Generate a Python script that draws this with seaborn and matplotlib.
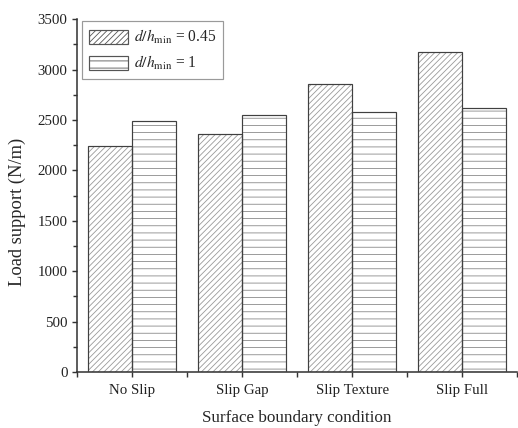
import matplotlib
matplotlib.use("Agg")
import matplotlib.pyplot as plt
import seaborn as sns
import pandas as pd
from matplotlib.ticker import MultipleLocator
from matplotlib.patches import Patch

categories = ["No Slip", "Slip Gap", "Slip Texture", "Slip Full"]
load_045 = [2240, 2365, 2860, 3175]
load_1 = [2495, 2550, 2580, 2620]
series_labels = [r"$d/h_{\mathrm{min}}$ = 0.45", r"$d/h_{\mathrm{min}}$ = 1"]
yticks = [0, 500, 1000, 1500, 2000, 2500, 3000, 3500]

df = pd.DataFrame({
    "cond": categories * 2,
    "load": load_045 + load_1,
    "series": [series_labels[0]] * 4 + [series_labels[1]] * 4,
})

sns.set_style("ticks")
plt.rcParams["font.family"] = ["Liberation Serif", "DejaVu Serif"]
plt.rcParams["mathtext.fontset"] = "stix"
plt.rcParams["hatch.linewidth"] = 0.7

DPI = 86
fig = plt.figure(figsize=(518 / DPI, 428 / DPI), dpi=DPI)
ax = fig.add_axes([0.1477, 0.1308, 0.999 - 0.1477, 0.9549 - 0.1308])

sns.barplot(data=df, x="cond", y="load", hue="series", order=categories,
            hue_order=series_labels, width=0.8, gap=0, ax=ax,
            palette=["white", "white"], linewidth=0,
            legend=False, err_kws={"linewidth": 0})

hatches = ["/////", "--"]
hatch_cols = ["#9a9a9a", "#8a8a8a"]
for cont, h, hc in zip(ax.containers, hatches, hatch_cols):
    for p in cont.patches:
        p.set_hatch(h)
        p.set_edgecolor(hc)
        p.set_linewidth(0)
        p.set_facecolor("white")
        r = plt.Rectangle(p.get_xy(), p.get_width(), p.get_height(),
                          fill=False, edgecolor="#404040", linewidth=1.0, zorder=3)
        ax.add_patch(r)

handles = [Patch(facecolor="white", edgecolor="#555555", hatch=h, linewidth=1.0) for h in hatches]
leg = ax.legend(handles, series_labels, loc="upper left", bbox_to_anchor=(0.012, 0.995),
                borderaxespad=0, fontsize=13, handlelength=2.5, handleheight=1.0,
                frameon=True, fancybox=False, edgecolor="#9a9a9a", framealpha=1,
                borderpad=0.45, labelspacing=0.5, handletextpad=0.4)
leg.get_frame().set_linewidth(1.0)

ax.set_xlim(-0.5, 3.5)
ax.set_ylim(0, 3500)
ax.set_yticks(yticks)
ax.yaxis.set_minor_locator(MultipleLocator(250))
ax.set_xticks(range(len(categories)))
ax.set_xticklabels(categories)
ax.set_xticks([-0.5, 0.5, 1.5, 2.5, 3.5], minor=True)

sns.despine(ax=ax)
for s in ["left", "bottom"]:
    ax.spines[s].set_color("#333333")
    ax.spines[s].set_linewidth(1.3)
ax.tick_params(axis="both", which="major", direction="out", length=4, width=1.2,
               colors="#333333", labelsize=12.5, labelcolor="#222222")
ax.tick_params(axis="both", which="minor", direction="out", length=4, width=1.2,
               colors="#333333")
ax.tick_params(axis="y", which="minor", length=3)
ax.tick_params(axis="x", which="major", pad=6)

ax.set_xlabel("Surface boundary condition", fontsize=14.2)
ax.set_ylabel("Load support (N/m)", fontsize=15.5)
ax.xaxis.set_label_coords(0.5, -0.108)
ax.yaxis.set_label_coords(-0.114, 0.455)

fig.savefig("out.png", dpi=DPI)
